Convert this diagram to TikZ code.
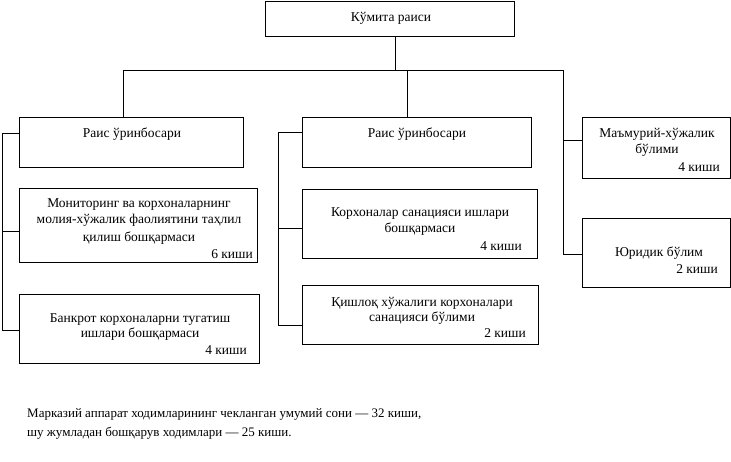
\documentclass[tikz,border=0pt]{standalone}
\usepackage{fontspec}
\setmainfont{Liberation Serif}
\begin{document}
\begin{tikzpicture}[x=1pt,y=-1pt,
  box/.style={draw, line width=0.9pt, inner sep=0pt, outer sep=0pt, anchor=north west},
  txt/.style={font=\fontsize{13.5}{15}\selectfont, inner sep=0pt, anchor=base},
  rtxt/.style={font=\fontsize{13.5}{15}\selectfont, inner sep=0pt, anchor=base east},
  ltxt/.style={font=\fontsize{13}{15}\selectfont, inner sep=0pt, anchor=base west},
  ln/.style={line width=0.9pt}]
\useasboundingbox (0,0) rectangle (731,461);
% boxes
\node[box, minimum width=249pt, minimum height=35pt] (top) at (265,1) {};
\node[box, minimum width=224pt, minimum height=50pt] (L1) at (19,117) {};
\node[box, minimum width=238pt, minimum height=74pt] (L2) at (19,188) {};
\node[box, minimum width=240pt, minimum height=69pt] (L3) at (19,294) {};
\node[box, minimum width=229pt, minimum height=50pt] (M1) at (302,117) {};
\node[box, minimum width=235pt, minimum height=69pt] (M2) at (302,189) {};
\node[box, minimum width=236pt, minimum height=59pt] (M3) at (302,285) {};
\node[box, minimum width=148pt, minimum height=61pt] (R1) at (582,117) {};
\node[box, minimum width=148pt, minimum height=69pt] (R2) at (582,218) {};
% texts
\node[txt] (tTop) at (391,21) {Кўмита раиси};
\node[txt] (tL1) at (132,137) {Раис ўринбосари};
\node[txt] (tL2a) at (139,207) {Мониторинг ва корхоналарнинг};
\node[txt] (tL2b) at (139,223) {молия-хўжалик фаолиятини таҳлил};
\node[txt] (tL2c) at (139,241) {қилиш бошқармаси};
\node[rtxt] (tL2d) at (253,258) {6 киши};
\node[txt] (tL3a) at (140,322) {Банкрот корхоналарни тугатиш};
\node[txt] (tL3b) at (140,337) {ишлари бошқармаси};
\node[rtxt] (tL3c) at (247,354) {4 киши};
\node[txt] (tM1) at (417,137) {Раис ўринбосари};
\node[txt] (tM2a) at (420,216) {Корхоналар санацияси ишлари};
\node[txt] (tM2b) at (420,232) {бошқармаси};
\node[rtxt] (tM2c) at (522,250) {4 киши};
\node[txt] (tM3a) at (422,306) {Қишлоқ хўжалиги корхоналари};
\node[txt] (tM3b) at (422,321) {санацияси бўлими};
\node[rtxt] (tM3c) at (526,337) {2 киши};
\node[txt] (tR1a) at (657,137) {Маъмурий-хўжалик};
\node[txt] (tR1b) at (657,153) {бўлими};
\node[rtxt] (tR1c) at (720,171) {4 киши};
\node[txt] (tR2a) at (659,256) {Юридик бўлим};
\node[rtxt] (tR2b) at (718,273) {2 киши};
\node[ltxt] (f1) at (27,417) {Марказий аппарат ходимларининг чекланган умумий сони — 32 киши,};
\node[ltxt] (f2) at (27,436) {шу жумладан бошқарув ходимлари — 25 киши.};
% junctions
\coordinate (jt) at (395.5,70);
\coordinate (jl) at (123,70);
\coordinate (jm) at (407,70);
\coordinate (jr) at (563,70);
\coordinate (rb1) at (563,140);
\coordinate (rb2) at (563,254);
\coordinate (lb1) at (2,133);
\coordinate (lb2) at (2,231);
\coordinate (lb3) at (2,330);
\coordinate (mb1) at (278,132);
\coordinate (mb2) at (278,228);
\coordinate (mb3) at (278,325);
% connectors
\draw[ln] (jt |- top.south) -- (jt);
\draw[ln] (jl) -- (jr);
\draw[ln] (jl) -- (jl |- L1.north);
\draw[ln] (jm) -- (jm |- M1.north);
\draw[ln] (jr) -- (rb2);
\draw[ln] (rb1) -- (R1.west |- rb1);
\draw[ln] (rb2) -- (R2.west |- rb2);
\draw[ln] (L1.west |- lb1) -- (lb1) -- (lb3) -- (L3.west |- lb3);
\draw[ln] (lb2) -- (L2.west |- lb2);
\draw[ln] (M1.west |- mb1) -- (mb1) -- (mb3) -- (M3.west |- mb3);
\draw[ln] (mb2) -- (M2.west |- mb2);
\end{tikzpicture}
\end{document}
